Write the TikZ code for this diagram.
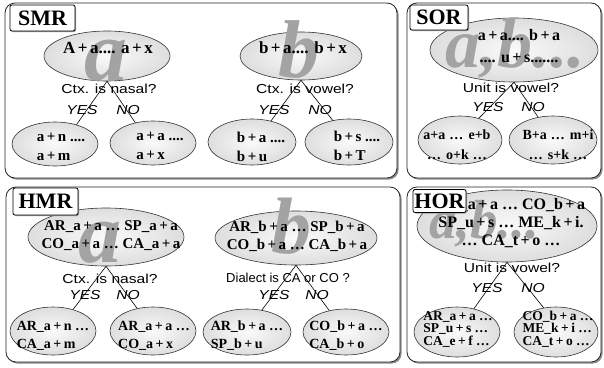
\documentclass[tikz,border=0pt]{standalone}
\usepackage{fontspec}
\setmainfont{Liberation Serif}
\newfontfamily\qfont{Liberation Sans}[FakeStretch=1.2]
\newfontfamily\qfontn{Liberation Sans}
\usetikzlibrary{shapes.geometric,shadows}
\newcommand{\plx}{\kern2.5pt+\kern2.5pt}
\newcommand{\dts}{\kern1pt.\kern1.2pt.\kern1.2pt.\kern1pt}
\tikzset{
  panel/.style={draw=black!85, line width=0.8pt, rounded corners=10pt, fill=white,
    drop shadow={shadow xshift=1.6pt, shadow yshift=-1.6pt, fill=black!45, opacity=1}},
  tag/.style={draw=black, line width=0.8pt, fill=white, rounded corners=2pt, inner sep=0pt,
    font=\bfseries\fontsize{22}{22}\selectfont,
    drop shadow={shadow xshift=1pt, shadow yshift=-1pt, fill=black!40, opacity=1}},
  ell/.style={ellipse, draw=black!80, line width=0.6pt, inner sep=0pt,
    shading=radial, inner color=gray!4, outer color=gray!26},
  big/.style={text=black!36, font=\bfseries\itshape\fontsize{#1}{#1}\selectfont, inner sep=0pt, anchor=base},
  etxt/.style={font=\bfseries\fontsize{#1}{18}\selectfont, align=center, inner sep=0pt},
  ltxt/.style={font=\bfseries\fontsize{15}{19}\selectfont, align=left, inner sep=0pt},
  qtxt/.style={font=\qfont\fontsize{13}{13}\selectfont, inner sep=0pt},
  yn/.style={font=\qfont\itshape\fontsize{13}{13}\selectfont, inner sep=0pt},
  conn/.style={draw=black, line width=0.6pt}
}
\begin{document}
\begin{tikzpicture}[x=1pt,y=-1pt]
\useasboundingbox (0,0) rectangle (604,367);
% panels
\draw[panel] (5,3) rectangle (397,178);
\draw[panel] (407,3) rectangle (601,178);
\draw[panel] (6,187) rectangle (400,362);
\draw[panel] (407,187) rectangle (601,362);

% ===== SMR =====
\node[ell, minimum width=126pt, minimum height=50pt] (smrA) at (107,56) {};
\node[big=86] (smrAl) at (106,80) {a};
\node[etxt=17] (smrAt) at (108,48) {A\plx a.... a\plx x};
\node[qtxt] (smrQ) at (109,89) {Ctx. is nasal?};
\node[yn] (smrY) at (82,110) {YES};
\node[yn] (smrN) at (128,110) {NO};
\node[ell, minimum width=86pt, minimum height=44pt] (smrL) at (55,144) {};
\node[ell, minimum width=86pt, minimum height=44pt] (smrR) at (153,143) {};
\node[ltxt] (smrLt) at (61,147) {a\plx n ....\\a\plx m};
\node[ltxt] (smrRt) at (160,146) {a\plx a ....\\a\plx x};
\draw[conn] (smrA.south) -- (smrL.42);
\draw[conn] (smrA.south) -- (smrR.131);

\node[ell, minimum width=122pt, minimum height=48pt] (smrB) at (301,56) {};
\node[big=82] (smrBl) at (299,77) {b};
\node[etxt=17] (smrBt) at (303,48) {b\plx a.... b\plx x};
\node[qtxt] (smrQ2) at (305,89) {Ctx. is vowel?};
\node[yn] (smrY2) at (274,110) {YES};
\node[yn] (smrN2) at (320,110) {NO};
\node[ell, minimum width=88pt, minimum height=46pt] (smrBL) at (252,142) {};
\node[ell, minimum width=88pt, minimum height=46pt] (smrBR) at (349,142) {};
\node[ltxt] (smrBLt) at (261,147) {b\plx a ....\\b\plx u};
\node[ltxt] (smrBRt) at (357,146) {b\plx s ....\\b\plx T};
\draw[conn] (smrB.south) -- (smrBL.48);
\draw[conn] (smrB.south) -- (smrBR.127);

% ===== SOR =====
\node[ell, minimum width=168pt, minimum height=64pt] (sorE) at (514,50) {};
\node[big=70] (sorEl) at (515,67) {a,b...};
\node[etxt=16, font=\bfseries\fontsize{16}{22}\selectfont] (sorEt) at (519,46) {a\plx a.... b\plx a\\.... u\plx s.......};
\node[qtxt] (sorQ) at (511,88) {Unit is vowel?};
\node[yn] (sorY) at (488,107) {YES};
\node[yn] (sorN) at (533,107) {NO};
\node[ell, minimum width=84pt, minimum height=48pt] (sorL) at (460,140) {};
\node[ell, minimum width=88pt, minimum height=48pt] (sorR) at (553,140) {};
\node[etxt=14, font=\bfseries\fontsize{14}{20}\selectfont] (sorLt) at (457,145) {a+a \dts{} e+b\\\dts{} o+k \dts};
\node[etxt=14, font=\bfseries\fontsize{14}{20}\selectfont] (sorRt) at (558,145) {B+a \dts{} m+i\\\dts{} s+k \dts};
\draw[conn] (sorE.south) -- (sorL.49);
\draw[conn] (sorE.south) -- (sorR.123);

% ===== HMR =====
\node[ell, minimum width=156pt, minimum height=58pt] (hmrA) at (106,237) {};
\node[big=86] (hmrAl) at (100,262) {a};
\node[etxt=15] (hmrAt) at (111,236) {AR\_a\plx a \ldots{} SP\_a\plx a\\CO\_a\plx a \ldots{} CA\_a\plx a};
\node[qtxt] (hmrQ) at (110,279) {Ctx. is nasal?};
\node[yn] (hmrY) at (85,295) {YES};
\node[yn] (hmrN) at (128,295) {NO};
\node[ell, minimum width=86pt, minimum height=48pt] (hmrL) at (53,331) {};
\node[ell, minimum width=86pt, minimum height=48pt] (hmrR) at (153,331) {};
\node[ltxt, font=\bfseries\fontsize{14}{18}\selectfont] (hmrLt) at (53,336) {AR\_a\plx n \ldots\\CA\_a\plx m};
\node[ltxt, font=\bfseries\fontsize{14}{18}\selectfont] (hmrRt) at (154,336) {AR\_a\plx a \ldots\\CO\_a\plx x};
\draw[conn] (hmrA.south) -- (hmrL.47);
\draw[conn] (hmrA.south) -- (hmrR.125);

\node[ell, minimum width=162pt, minimum height=54pt] (hmrB) at (296,238) {};
\node[big=80] (hmrBl) at (291,253) {b};
\node[etxt=15] (hmrBt) at (297,236) {AR\_b\plx a \ldots{} SP\_b\plx a\\CO\_b\plx a \ldots{} CA\_b\plx a};
\node[font=\qfontn\fontsize{13}{13}\selectfont, inner sep=0pt] (hmrQ2) at (288,278) {Dialect is CA or CO ?};
\node[yn] (hmrY2) at (274,295) {YES};
\node[yn] (hmrN2) at (317,295) {NO};
\node[ell, minimum width=88pt, minimum height=46pt] (hmrBL) at (247,332) {};
\node[ell, minimum width=86pt, minimum height=46pt] (hmrBR) at (346,332) {};
\node[ltxt, font=\bfseries\fontsize{14}{18}\selectfont] (hmrBLt) at (247,336) {AR\_b\plx a \ldots\\SP\_b\plx u};
\node[ltxt, font=\bfseries\fontsize{14}{18}\selectfont] (hmrBRt) at (346,336) {CO\_b\plx a \ldots\\CA\_b\plx o};
\draw[conn] (hmrB.south) -- (hmrBL.56);
\draw[conn] (hmrB.south) -- (hmrBR.128);

% ===== HOR =====
\node[ell, minimum width=180pt, minimum height=72pt] (horE) at (507,226) {};
\node[big=55] (horEl) at (484,238) {a,b...};
\node[etxt=16] (horEt) at (511,223) {AR\_a\plx a \ldots{} CO\_b\plx a\\SP\_u\plx s \ldots{} ME\_k\plx i.\\\ldots{} CA\_t\plx o \ldots};
\node[qtxt] (horQ) at (512,268) {Unit is vowel?};
\node[yn] (horY) at (487,288) {YES};
\node[yn] (horN) at (533,288) {NO};
\node[ell, minimum width=86pt, minimum height=50pt] (horL) at (457,332) {};
\node[ell, minimum width=84pt, minimum height=50pt] (horR) at (556,332) {};
\node[ltxt, font=\bfseries\fontsize{13.5}{12.5}\selectfont] (horLt) at (458,329) {AR\_a\plx a \ldots\\SP\_u\plx s \ldots\\CA\_e\plx f \ldots};
\node[ltxt, font=\bfseries\fontsize{13.5}{12.5}\selectfont] (horRt) at (558,329) {CO\_b\plx a \ldots\\ME\_k\plx i \ldots\\CA\_t\plx o \ldots};
\draw[conn] (horE.south) -- (horL.54);
\draw[conn] (horE.south) -- (horR.117);

% ===== labels =====
\node[tag, minimum width=65pt, minimum height=26pt] (tSMR) at (42.5,18) {SMR};
\node[tag, minimum width=58pt, minimum height=25pt] (tSOR) at (439,17.5) {SOR};
\node[tag, minimum width=65pt, minimum height=27pt] (tHMR) at (45.5,201.5) {HMR};
\node[tag, minimum width=53pt, minimum height=23pt] (tHOR) at (439.5,201) {HOR};
\end{tikzpicture}
\end{document}
